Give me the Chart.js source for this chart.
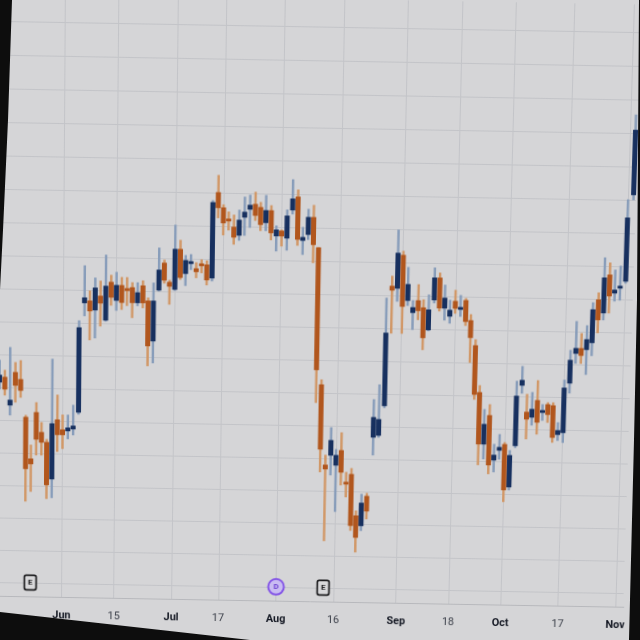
<!DOCTYPE html>
<html>
<head>
<meta charset="utf-8">
<script src="https://cdn.jsdelivr.net/npm/chart.js@4.4.4/dist/chart.umd.min.js"></script>
<style>
  html, body { margin: 0; padding: 0; width: 640px; height: 640px; overflow: hidden; background: #0d0d0d; }
  /* the screen as photographed: slightly tilted and keystoned, dark edges showing */
  #frame { position: absolute; left: 0; top: 0; width: 640px; height: 640px; overflow: hidden;
    clip-path: polygon(12px 0, 639px 0, 637px 300px, 634px 440px, 629px 640px, 250px 640px, 0 612px, 0 290px, 3px 230px, 8px 120px); }
  #wrap { position: absolute; left: -20px; top: -20px; width: 680px; height: 680px; background: #d5d5d7;
    transform: translate(-4.5px, 3px) scaleX(0.995) rotate(1deg) perspective(1000px) rotateX(-2.5deg); }
  #wrap canvas { position: absolute; left: 20px; top: 20px; }
</style>
</head>
<body>
<div id="frame"><div id="wrap"><canvas id="chart" width="640" height="640"></canvas></div></div>
<script>
// Daily candles, mid May to early Nov 2023 (trading days only).
const dates = [
  '05-15','05-16','05-17','05-18','05-19','05-22','05-23','05-24','05-25','05-26','05-30','05-31',
  '06-01','06-02','06-05','06-06','06-07','06-08','06-09','06-12','06-13','06-14','06-15','06-16',
  '06-20','06-21','06-22','06-23','06-26','06-27','06-28','06-29','06-30',
  '07-03','07-05','07-06','07-07','07-10','07-11','07-12','07-13','07-14','07-17','07-18','07-19',
  '07-20','07-21','07-24','07-25','07-26','07-27','07-28','07-31',
  '08-01','08-02','08-03','08-04','08-07','08-08','08-09','08-10','08-11','08-14','08-15','08-16',
  '08-17','08-18','08-21','08-22','08-23','08-24','08-25','08-28','08-29','08-30','08-31',
  '09-01','09-05','09-06','09-07','09-08','09-11','09-12','09-13','09-14','09-15','09-18','09-19',
  '09-20','09-21','09-22','09-25','09-26','09-27','09-28','09-29',
  '10-02','10-03','10-04','10-05','10-06','10-09','10-10','10-11','10-12','10-13','10-16','10-17',
  '10-18','10-19','10-20','10-23','10-24','10-25','10-26','10-27','10-30','10-31',
  '11-01','11-02',
];

const open = [
  129.3, 129.8, 127.0, 130.3, 129.6, 125.8, 121.6, 126.3, 124.3, 123.3,
  119.6, 125.6, 124.6, 124.5, 124.7, 126.4, 137.4, 137.6, 136.7, 138.1,
  135.7, 139.5, 137.7, 139.2, 138.9, 139.0, 137.5, 139.2, 137.7, 133.7,
  138.8, 141.5, 139.6, 138.9, 142.9, 140.5, 141.5, 141.0, 141.5, 141.4,
  140.1, 148.6, 147.1, 146.0, 145.2, 144.4, 146.2, 147.0, 147.5, 147.2,
  145.7, 146.9, 144.4, 144.9, 144.2, 147.0, 148.3, 144.0, 144.6, 146.3,
  143.3, 129.6, 121.5, 122.5, 121.5, 123.0, 119.8, 120.6, 116.4, 115.4,
  118.4, 124.4, 124.6, 127.6, 139.6, 139.4, 142.7, 138.2, 137.0, 138.2,
  137.5, 135.3, 138.3, 140.5, 137.5, 136.7, 138.2, 137.4, 138.3, 136.3,
  133.8, 129.1, 123.9, 126.8, 122.3, 123.3, 123.9, 119.6, 123.8, 129.9,
  127.2, 126.7, 128.4, 127.2, 128.0, 127.9, 125.0, 125.2, 130.2, 133.2,
  133.7, 133.6, 134.3, 138.6, 137.3, 141.1, 139.3, 139.8, 140.5, 149.1,
];
const high = [
  131.5, 130.5, 132.8, 131.3, 131.5, 126.0, 123.0, 127.3, 125.3, 123.6,
  131.7, 128.1, 126.1, 126.1, 127.1, 135.6, 141.1, 138.6, 139.9, 139.6,
  142.2, 140.2, 140.5, 140.0, 140.0, 139.5, 139.5, 139.7, 138.0, 139.5,
  143.0, 141.8, 139.8, 145.3, 143.8, 142.3, 142.4, 141.6, 141.9, 141.8,
  147.8, 150.3, 147.4, 146.7, 146.4, 146.9, 148.2, 148.4, 148.7, 147.7,
  148.4, 147.4, 145.4, 145.0, 147.0, 150.0, 149.0, 145.3, 147.1, 147.5,
  143.3, 130.1, 122.5, 125.3, 123.1, 124.8, 120.8, 121.2, 116.9, 118.6,
  118.7, 128.2, 129.7, 138.4, 140.6, 145.2, 143.1, 141.5, 138.2, 139.8,
  138.3, 138.8, 141.5, 141.0, 139.8, 138.3, 139.3, 138.8, 138.5, 136.9,
  134.4, 129.8, 127.4, 127.9, 123.9, 124.9, 124.1, 123.3, 130.3, 131.8,
  129.0, 129.2, 130.4, 128.0, 128.2, 128.2, 126.2, 130.5, 133.5, 136.4,
  135.2, 136.0, 138.3, 139.3, 142.8, 142.3, 141.6, 142.0, 148.6, 157.0,
];
const low = [
  128.6, 128.0, 126.0, 127.3, 127.8, 117.3, 118.3, 122.0, 122.0, 117.6,
  117.7, 122.4, 122.7, 123.7, 124.1, 126.2, 136.1, 133.7, 133.9, 135.1,
  135.6, 137.2, 136.7, 136.8, 137.2, 136.0, 137.2, 137.0, 131.2, 131.5,
  138.7, 139.5, 137.4, 138.8, 139.9, 139.3, 140.9, 140.1, 140.6, 139.4,
  139.8, 146.1, 144.4, 144.9, 143.5, 143.9, 144.4, 145.2, 145.9, 144.9,
  144.9, 144.0, 142.9, 143.4, 143.0, 146.6, 143.5, 142.6, 144.1, 141.8,
  127.8, 120.8, 113.8, 120.5, 116.8, 119.5, 118.3, 114.9, 112.7, 114.9,
  116.1, 122.6, 124.4, 127.4, 134.9, 138.1, 134.9, 137.7, 135.3, 136.3,
  133.3, 135.2, 138.0, 137.2, 136.3, 136.0, 137.0, 136.7, 135.8, 132.1,
  128.4, 121.8, 122.4, 120.9, 121.1, 122.4, 118.1, 119.3, 123.6, 129.1,
  124.5, 125.9, 125.0, 126.4, 126.2, 124.2, 124.4, 124.2, 129.2, 132.2,
  132.2, 131.1, 133.0, 135.3, 136.6, 137.3, 138.5, 138.6, 140.3, 148.6,
];
const close = [
  130.0, 128.6, 127.5, 129.0, 128.5, 120.6, 121.1, 123.6, 123.3, 119.0,
  125.2, 124.1, 124.1, 124.8, 125.0, 134.9, 137.9, 136.6, 138.9, 137.4,
  139.1, 138.0, 139.2, 137.5, 138.7, 137.5, 138.5, 137.5, 133.2, 137.7,
  140.8, 139.8, 139.2, 142.9, 140.1, 141.8, 141.7, 140.7, 141.3, 139.9,
  147.6, 147.1, 145.6, 145.8, 144.2, 145.9, 146.7, 147.4, 146.4, 145.5,
  146.9, 144.7, 145.0, 144.4, 146.4, 148.1, 144.1, 144.3, 146.3, 143.6,
  131.1, 123.1, 121.1, 124.0, 122.5, 120.8, 119.6, 115.4, 114.2, 117.7,
  116.9, 126.4, 126.2, 134.9, 139.2, 142.9, 137.6, 139.8, 137.5, 137.2,
  134.5, 137.3, 140.5, 137.5, 138.5, 137.3, 137.5, 137.6, 136.2, 134.6,
  128.9, 123.9, 125.9, 121.8, 122.8, 123.6, 119.3, 122.8, 128.8, 130.4,
  126.5, 127.5, 126.2, 127.4, 127.0, 124.7, 125.4, 129.7, 132.5, 133.7,
  133.0, 134.6, 137.6, 136.6, 140.8, 139.0, 139.6, 140.0, 146.8, 155.5,
];

// x-axis labels and where they sit
const tickDates = ['06-01', '06-15', '07-03', '07-17', '08-01', '08-16', '09-01', '09-18', '10-02', '10-17', '11-01'];
const tickText = ['Jun', '15', 'Jul', '17', 'Aug', '16', 'Sep', '18', 'Oct', '17', 'Nov'];

// earnings / dividend flags along the bottom
const eventDates = ['05-23', '08-01', '08-14'];
const eventKind = ['E', 'D', 'E'];

const UP_BODY = '#17305f', DOWN_BODY = '#b1561d';
const UP_WICK = '#889dba', DOWN_WICK = '#d19868';
const isUp = (i) => close[i] >= open[i];
const isMonth = (k) => /[A-Za-z]/.test(tickText[k]);

const eventPlugin = {
    id: 'events',
    afterDatasetsDraw(chart) {
        const { ctx, chartArea, scales } = chart;
        const y = chartArea.bottom - 15;
        ctx.save();
        ctx.textAlign = 'center';
        ctx.textBaseline = 'middle';
        eventDates.forEach((d, k) => {
            const x = scales.x.getPixelForValue(dates.indexOf(d));
            if (eventKind[k] === 'D') {
                ctx.beginPath();
                ctx.arc(x, y, 8, 0, Math.PI * 2);
                ctx.fillStyle = '#c9bcf2';
                ctx.fill();
                ctx.lineWidth = 2;
                ctx.strokeStyle = '#8455e6';
                ctx.stroke();
                ctx.fillStyle = '#6a3fd0';
                ctx.font = 'bold 8px Roboto, sans-serif';
                ctx.fillText('D', x, y + 0.5);
            } else {
                ctx.beginPath();
                ctx.roundRect(x - 6, y - 7.5, 12, 15, 2);
                ctx.fillStyle = '#d8d8da';
                ctx.fill();
                ctx.lineWidth = 1.7;
                ctx.strokeStyle = '#1c1c1e';
                ctx.stroke();
                ctx.fillStyle = '#1c1c1e';
                ctx.font = 'bold 8px Roboto, sans-serif';
                ctx.fillText('E', x, y + 0.5);
            }
        });
        ctx.restore();
    },
};

new Chart(document.getElementById('chart'), {
    type: 'bar',
    data: {
        labels: dates,
        datasets: [
            {
                label: 'body',
                data: open.map((o, i) => [o, close[i]]),
                backgroundColor: dates.map((_, i) => (isUp(i) ? UP_BODY : DOWN_BODY)),
                barThickness: 4.4,
                minBarLength: 1.8,
                grouped: false,
            },
            {
                label: 'wick',
                data: low.map((l, i) => [l, high[i]]),
                backgroundColor: dates.map((_, i) => (isUp(i) ? UP_WICK : DOWN_WICK)),
                barThickness: 1.8,
                grouped: false,
            },
        ],
    },
    options: {
        responsive: false,
        animation: false,
        layout: { padding: { left: 0, right: 0, top: 0, bottom: 12 } },
        plugins: { legend: { display: false }, tooltip: { enabled: false } },
        scales: {
            x: {
                // tick marks kept but invisible, they only push the labels down
                grid: { color: '#c3c4c8', offset: false, drawTicks: true, tickLength: 12, tickColor: 'rgba(0,0,0,0)' },
                border: { display: true, color: '#b7b8bc' },
                afterBuildTicks(axis) {
                    axis.ticks = tickDates.map((d) => ({ value: dates.indexOf(d) }));
                },
                ticks: {
                    autoSkip: false,
                    maxRotation: 0,
                    padding: 0,
                    callback(value) {
                        return tickText[tickDates.indexOf(dates[value])];
                    },
                    color: (c) => (isMonth(c.index) ? '#131722' : '#3a3e48'),
                    font: (c) => ({
                        family: 'Roboto, sans-serif',
                        size: 11,
                        weight: isMonth(c.index) ? 'bold' : 'normal',
                    }),
                },
            },
            y: {
                position: 'right',
                min: 107.5,
                max: 167.8,
                grid: { color: '#c3c4c8', drawTicks: false },
                border: { display: false },
                ticks: { display: false, stepSize: 3.3, includeBounds: false },
            },
        },
    },
    plugins: [eventPlugin],
});
</script>
</body>
</html>
